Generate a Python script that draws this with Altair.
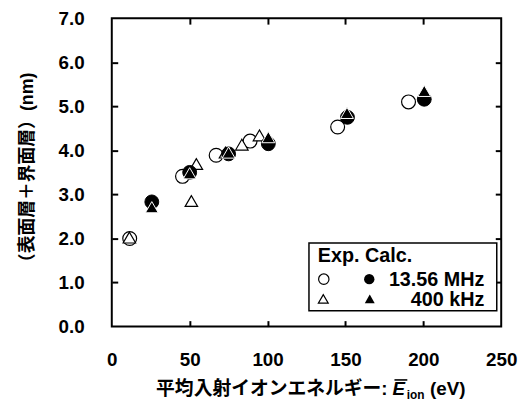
import altair as alt
import pandas as pd

# ---- data ----
exp_mhz_x = [11.5, 45.4, 67.0, 88.8, 145.0, 190.5]
exp_mhz_y = [2.00, 3.41, 3.89, 4.21, 4.53, 5.10]

calc_mhz_x = [25.7, 50.0, 75.0, 100.5, 151.3, 200.6]
calc_mhz_y = [2.83, 3.50, 3.92, 4.15, 4.75, 5.16]

exp_khz_x = [11.3, 51.1, 54.3, 73.0, 83.5, 94.8]
exp_khz_y = [2.02, 2.85, 3.69, 3.95, 4.13, 4.34]

calc_khz_x = [25.7, 50.0, 75.0, 100.5, 151.0, 200.6]
calc_khz_y = [2.71, 3.48, 3.95, 4.30, 4.85, 5.35]

x_ticks = [0, 50, 100, 150, 200, 250]
y_ticks = [0, 1, 2, 3, 4, 5, 6, 7]
x_minor = [50, 100, 150, 200]
y_minor = [1, 2, 3, 4, 5, 6]

legend_header = "Exp. Calc."
legend_labels = ["13.56 MHz", "400 kHz"]
y_title = "（表面層＋界面層）(nm)"
x_title_main = "平均入射イオンエネルギー:"
x_title_sym = "E"
x_title_sub = "ion"
x_title_unit = "(eV)"

FONT = "Liberation Sans, Noto Sans CJK JP"
W, H = 394, 312

xs = alt.Scale(domain=[0, 250], nice=False, zero=False)
ys = alt.Scale(domain=[0, 7], nice=False, zero=False)

def df(x, y):
    return pd.DataFrame({"x": x, "y": y})

lab_common = dict(labelFont=FONT, labelFontSize=19, labelFontWeight="bold",
                  labelColor="black", grid=False, domain=False, ticks=False,
                  tickSize=0, labelOverlap=False, labelFlush=False)

axA_x = alt.Axis(orient="bottom", values=x_ticks, format="d", labelPadding=24,
                 title=None, **lab_common)
axA_y = alt.Axis(orient="left", values=y_ticks, format=".1f", labelPadding=28,
                 title=y_title, titleFont=FONT, titleFontSize=18, titleFontWeight="bold",
                 titleColor="black", titleAngle=270, titleX=-85, titleY=H / 2 - 1,
                 titleBaseline="middle", titleAlign="center", **lab_common)

def tick_axis(orient, vals):
    return alt.Axis(orient=orient, values=vals, labels=False, domain=False, ticks=True,
                    tickSize=6, tickWidth=2, tickColor="black", offset=-6,
                    grid=False, title=None)

pt_exp_c = alt.Chart(df(exp_mhz_x, exp_mhz_y)).mark_point(
    shape="circle", size=196, filled=True, fill="white", stroke="black",
    strokeWidth=1.2, opacity=1
).encode(x=alt.X("x:Q", scale=xs, axis=axA_x), y=alt.Y("y:Q", scale=ys, axis=axA_y))

pt_exp_t = alt.Chart(df(exp_khz_x, exp_khz_y)).mark_point(
    shape="triangle-up", size=160, filled=True, fill="white", stroke="black",
    strokeWidth=1.2, opacity=1
).encode(x=alt.X("x:Q", scale=xs, axis=tick_axis("bottom", x_minor)),
         y=alt.Y("y:Q", scale=ys, axis=tick_axis("left", y_minor)))

pt_calc_c = alt.Chart(df(calc_mhz_x, calc_mhz_y)).mark_point(
    shape="circle", size=196, filled=True, fill="black", stroke="black",
    strokeWidth=1, opacity=1
).encode(x=alt.X("x:Q", scale=xs, axis=tick_axis("top", x_minor)),
         y=alt.Y("y:Q", scale=ys, axis=tick_axis("right", y_minor)))

pt_calc_t = alt.Chart(df(calc_khz_x, calc_khz_y)).mark_point(
    shape="triangle-up", size=170, filled=True, fill="black", stroke="white",
    strokeWidth=1, opacity=1
).encode(x=alt.X("x:Q", scale=xs, axis=None), y=alt.Y("y:Q", scale=ys, axis=None))

one = pd.DataFrame({"k": [0]})

# ---- custom legend box ----
leg_box = alt.Chart(one).mark_rect(fill="white", stroke="black", strokeWidth=1.5).encode(
    x=alt.value(199.5), x2=alt.value(389.5), y=alt.value(227.5), y2=alt.value(296))
leg_head = alt.Chart(one).mark_text(
    text=legend_header, font=FONT, fontSize=20, fontWeight="bold", align="left",
    baseline="alphabetic", color="black").encode(x=alt.value(208.5), y=alt.value(247))
leg_sym1a = alt.Chart(one).mark_point(shape="circle", size=110, filled=True, fill="white",
    stroke="black", strokeWidth=1.2, opacity=1).encode(x=alt.value(214.5), y=alt.value(264))
leg_sym1b = alt.Chart(one).mark_point(shape="circle", size=110, filled=True, fill="black",
    opacity=1).encode(x=alt.value(260.5), y=alt.value(264))
leg_sym2a = alt.Chart(one).mark_point(shape="triangle-up", size=100, filled=True, fill="white",
    stroke="black", strokeWidth=1.2, opacity=1).encode(x=alt.value(214), y=alt.value(284))
leg_sym2b = alt.Chart(one).mark_point(shape="triangle-up", size=100, filled=True, fill="black",
    opacity=1).encode(x=alt.value(261), y=alt.value(284))
leg_t1 = alt.Chart(one).mark_text(text=legend_labels[0], font=FONT, fontSize=20,
    fontWeight="bold", align="right", baseline="alphabetic", color="black").encode(
    x=alt.value(377), y=alt.value(271))
leg_t2 = alt.Chart(one).mark_text(text=legend_labels[1], font=FONT, fontSize=20,
    fontWeight="bold", align="right", baseline="alphabetic", color="black").encode(
    x=alt.value(377), y=alt.value(291))

# ---- x axis title pieces ----
TB = 381  # title baseline (view coords)
xt_main = alt.Chart(one).mark_text(text=x_title_main, font=FONT, fontSize=19,
    fontWeight="bold", align="right", baseline="alphabetic", color="black").encode(
    x=alt.value(279), y=alt.value(TB))
xt_sym = alt.Chart(one).mark_text(text=x_title_sym, font=FONT, fontSize=19,
    fontWeight="bold", fontStyle="italic", align="left", baseline="alphabetic",
    color="black").encode(x=alt.value(284), y=alt.value(TB))
xt_bar = alt.Chart(one).mark_rule(color="black", strokeWidth=1.6).encode(
    x=alt.value(286), x2=alt.value(299), y=alt.value(TB - 15))
xt_sub = alt.Chart(one).mark_text(text=x_title_sub, font=FONT, fontSize=12,
    fontWeight="bold", align="left", baseline="alphabetic", color="black").encode(
    x=alt.value(298.5), y=alt.value(TB + 4))
xt_unit = alt.Chart(one).mark_text(text=x_title_unit, font=FONT, fontSize=19,
    fontWeight="bold", align="left", baseline="alphabetic", color="black").encode(
    x=alt.value(322), y=alt.value(TB))

chart = alt.layer(
    pt_exp_c, pt_exp_t, pt_calc_c, pt_calc_t,
    leg_box, leg_head, leg_sym1a, leg_sym1b, leg_sym2a, leg_sym2b, leg_t1, leg_t2,
    xt_main, xt_sym, xt_bar, xt_sub, xt_unit,
).resolve_axis(x="independent", y="independent").properties(
    width=W, height=H,
    autosize=alt.AutoSizeParams(type="none"),
    padding={"left": 105, "top": 8, "right": 18, "bottom": 74},
    background="white",
).configure_view(stroke="black", strokeWidth=2)

chart.save("out.html", embed_options={"renderer": "svg", "actions": False})
